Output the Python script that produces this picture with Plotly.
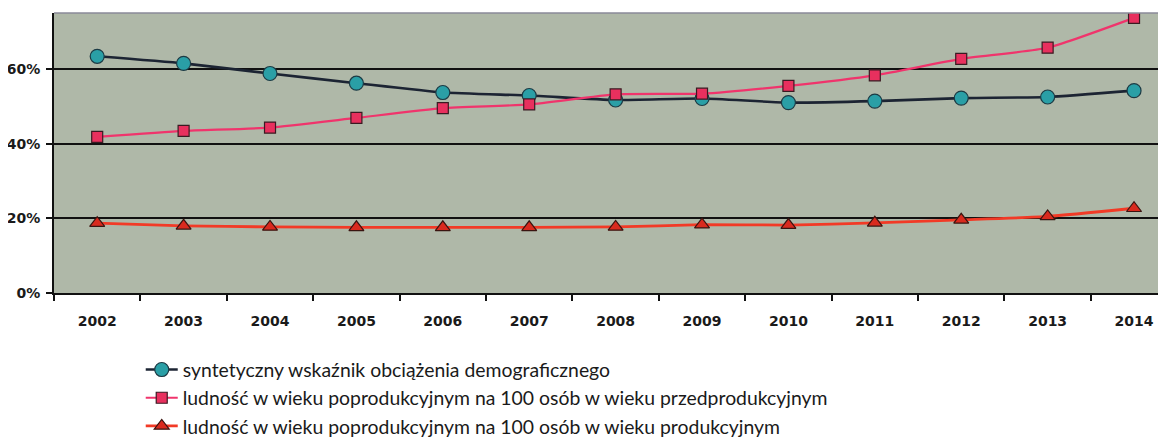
import plotly.graph_objects as go

# Lata i wartości (w %)
years = ['2002', '2003', '2004', '2005', '2006', '2007', '2008',
         '2009', '2010', '2011', '2012', '2013', '2014']

syntetyczny = [63.4, 61.5, 58.8, 56.2, 53.7, 52.9, 51.7, 52.1, 51.0, 51.4, 52.2, 52.5, 54.2]
przedprod = [41.8, 43.4, 44.3, 46.9, 49.5, 50.5, 53.2, 53.4, 55.5, 58.3, 62.7, 65.7, 73.7]
prod = [18.7, 18.0, 17.7, 17.6, 17.6, 17.6, 17.7, 18.3, 18.2, 18.8, 19.6, 20.5, 22.7]

names = [
    'syntetyczny wskaźnik obciążenia demograficznego',
    'ludność w wieku poprodukcyjnym na 100 osób w wieku przedprodukcyjnym',
    'ludność w wieku poprodukcyjnym na 100 osób w wieku produkcyjnym',
]

y_ticks = [0, 20, 40, 60]
y_tick_labels = ['0%', '20%', '40%', '60%']

fig = go.Figure()

fig.add_trace(go.Scatter(
    x=years, y=syntetyczny, name=names[0],
    mode='lines+markers',
    line=dict(color='#1c2433', width=2.6, shape='spline', smoothing=0.5),
    marker=dict(symbol='circle', size=14, color='#2a9fa6',
                line=dict(color='#1c3a44', width=1.2)),
))
fig.add_trace(go.Scatter(
    x=years, y=przedprod, name=names[1],
    mode='lines+markers',
    line=dict(color='#f0346c', width=2.2, shape='spline', smoothing=0.5),
    marker=dict(symbol='square', size=11, color='#e8305e',
                line=dict(color='#3a1a22', width=1.2)),
))
fig.add_trace(go.Scatter(
    x=years, y=prod, name=names[2],
    mode='lines+markers',
    line=dict(color='#f23a26', width=2.8, shape='spline', smoothing=0.5),
    marker=dict(symbol='triangle-up', size=13, color='#d92a1e',
                line=dict(color='#3a1410', width=1.2)),
))

# strona ma 8px marginesu body, więc figura jest o 8px mniejsza
fig.update_layout(
    width=1158, height=430,
    margin=dict(l=46, r=0, t=5, b=145, autoexpand=False),
    paper_bgcolor='white',
    plot_bgcolor='#afb8a8',
    font=dict(family='DejaVu Sans', color='#1a1a1a'),
    showlegend=True,
    legend=dict(
        x=0.078, y=-0.205, xanchor='left', yanchor='top',
        orientation='v',
        font=dict(family='Lato', size=19.4, color='#1a1a1a'),
        bgcolor='rgba(0,0,0,0)',
        itemwidth=32,
    ),
    shapes=[dict(type='line', xref='paper', yref='paper', x0=0, x1=1, y0=1, y1=1,
                 line=dict(color='#8a8a98', width=1.5))],
)

fig.update_xaxes(
    type='category',
    range=[-0.5, 12.37],
    showgrid=False,
    showline=True, linecolor='#111111', linewidth=2,
    ticks='outside', tickson='boundaries', ticklen=6, tickwidth=1.5, tickcolor='#111111',
    tickfont=dict(family='DejaVu Sans', size=14, color='#1a1a1a', weight='bold'),
    ticklabelstandoff=14,
    automargin=False,
    fixedrange=True,
)
fig.update_yaxes(
    range=[0, 75],
    tickvals=y_ticks, ticktext=y_tick_labels,
    showgrid=True, gridcolor='#111111', gridwidth=1.5,
    zeroline=False,
    showline=True, linecolor='#111111', linewidth=2,
    ticks='outside', ticklen=6, tickwidth=1.5, tickcolor='#111111',
    tickfont=dict(family='DejaVu Sans', size=14, color='#1a1a1a', weight='bold'),
    ticklabelstandoff=3,
    automargin=False,
    fixedrange=True,
)

fig.write_html('out.html')
